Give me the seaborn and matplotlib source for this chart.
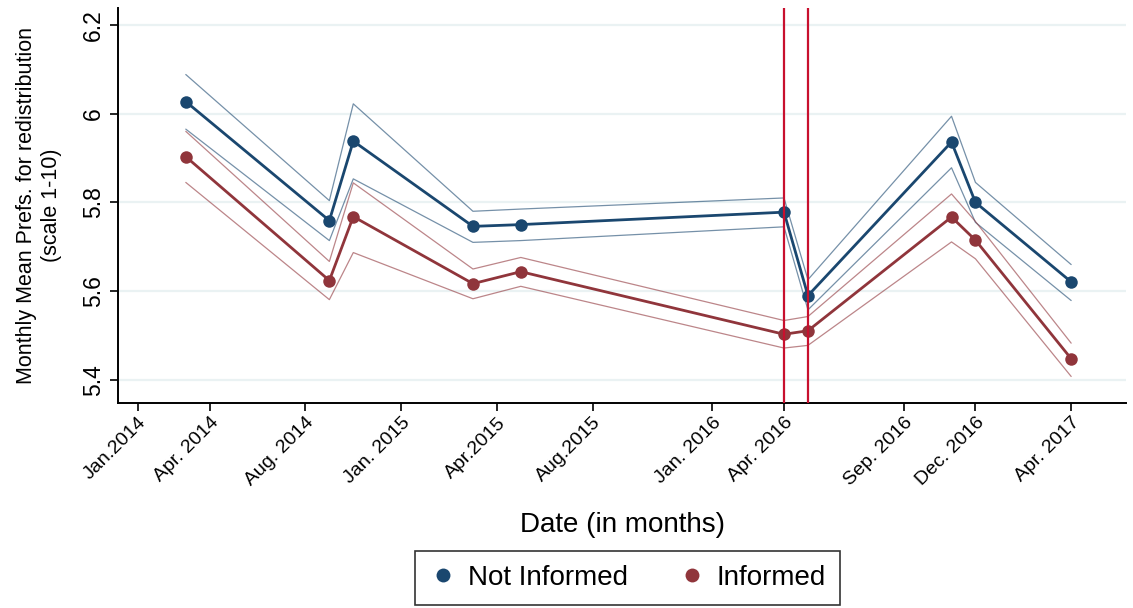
import matplotlib
matplotlib.use("Agg")
import matplotlib.pyplot as plt
from matplotlib.lines import Line2D
import seaborn as sns
import pandas as pd

# months since Jan. 2014
months = [2, 8, 9, 14, 16, 27, 28, 34, 35, 39]

not_informed_mean = [6.027, 5.759, 5.938, 5.746, 5.750, 5.778, 5.590, 5.936, 5.800, 5.621]
not_informed_hi   = [6.088, 5.804, 6.022, 5.780, 5.785, 5.810, 5.626, 5.994, 5.845, 5.660]
not_informed_lo   = [5.965, 5.714, 5.853, 5.710, 5.714, 5.745, 5.558, 5.878, 5.755, 5.579]

informed_mean = [5.903, 5.624, 5.768, 5.617, 5.644, 5.503, 5.511, 5.767, 5.715, 5.448]
informed_hi   = [5.960, 5.667, 5.844, 5.650, 5.676, 5.534, 5.543, 5.819, 5.757, 5.483]
informed_lo   = [5.845, 5.581, 5.687, 5.583, 5.611, 5.472, 5.478, 5.711, 5.673, 5.408]

tick_pos = [0, 3, 7, 11, 15, 19, 24, 27, 32, 35, 39]
tick_labels = ["Jan.2014", "Apr. 2014", "Aug. 2014", "Jan. 2015", "Apr.2015", "Aug.2015",
               "Jan. 2016", "Apr. 2016", "Sep. 2016", "Dec. 2016", "Apr. 2017"]
event_lines = [27, 28]
y_ticks = [5.4, 5.6, 5.8, 6.0, 6.2]
y_tick_labels = ["5.4", "5.6", "5.8", "6", "6.2"]

groups = ["Not Informed", "Informed"]
colors = {"Not Informed": "#1a476f", "Informed": "#90353b"}

rows = []
for g, m, hi, lo in [("Not Informed", not_informed_mean, not_informed_hi, not_informed_lo),
                     ("Informed", informed_mean, informed_hi, informed_lo)]:
    for i, x in enumerate(months):
        rows.append({"month": x, "group": g, "mean": m[i], "hi": hi[i], "lo": lo[i]})
df = pd.DataFrame(rows)

sns.set_style("white")
plt.rcParams["font.family"] = ["Liberation Sans", "DejaVu Sans"]
plt.rcParams["text.color"] = "black"
plt.rcParams["axes.labelcolor"] = "black"
plt.rcParams["xtick.color"] = "black"
plt.rcParams["ytick.color"] = "black"

fig = plt.figure(figsize=(11.33, 6.08), dpi=100)
ax = fig.add_axes([0.104, 0.337, 0.89, 0.65])

for y in y_ticks:
    ax.axhline(y, color="#eaf2f3", lw=1.6, zorder=0)

for g in groups:
    sub = df[df["group"] == g]
    for col in ["hi", "lo"]:
        sns.lineplot(data=sub, x="month", y=col, ax=ax, color=colors[g], lw=0.9,
                     alpha=0.6, legend=False, zorder=2)
    sns.lineplot(data=sub, x="month", y="mean", ax=ax, color=colors[g], lw=2.0,
                 marker="o", markersize=9, markeredgewidth=0, legend=False, zorder=3)

for xv in event_lines:
    ax.axvline(xv, color="#c8102e", lw=1.6, zorder=4)

ax.set_xlim(-0.84, 41.3)
ax.set_ylim(5.348, 6.238)
ax.set_xticks(tick_pos)
ax.set_xticklabels(tick_labels, rotation=45, ha="right", rotation_mode="anchor", fontsize=14)
ax.set_yticks(y_ticks)
ax.set_yticklabels(y_tick_labels, rotation=90, va="center", fontsize=16.5)
ax.tick_params(axis="both", direction="out", length=6, width=1.2, color="black",
               labelcolor="black", bottom=True, left=True)
ax.tick_params(axis="x", pad=2)

for s in ["top", "right"]:
    ax.spines[s].set_visible(False)
for s in ["left", "bottom"]:
    ax.spines[s].set_color("black")
    ax.spines[s].set_linewidth(1.4)

ax.set_xlabel("Date (in months)", fontsize=20, labelpad=16, color="black")
ax.set_ylabel("Monthly Mean Prefs. for redistribution\n(scale 1-10)", fontsize=15.5, labelpad=14,
              linespacing=1.25, color="black")

handles = [Line2D([], [], ls="none", marker="o", markersize=10, markeredgewidth=0,
                  color=colors[g]) for g in groups]
leg = fig.legend(handles, groups, loc="lower center", bbox_to_anchor=(0.554, -0.018), ncol=2,
                 frameon=True, fancybox=False, edgecolor="black", fontsize=20,
                 handletextpad=0.4, columnspacing=1.8, borderpad=0.5, handlelength=1.0,
                 labelcolor="black")
leg.get_frame().set_linewidth(1.2)

fig.savefig("out.png", dpi=100, facecolor="white")
